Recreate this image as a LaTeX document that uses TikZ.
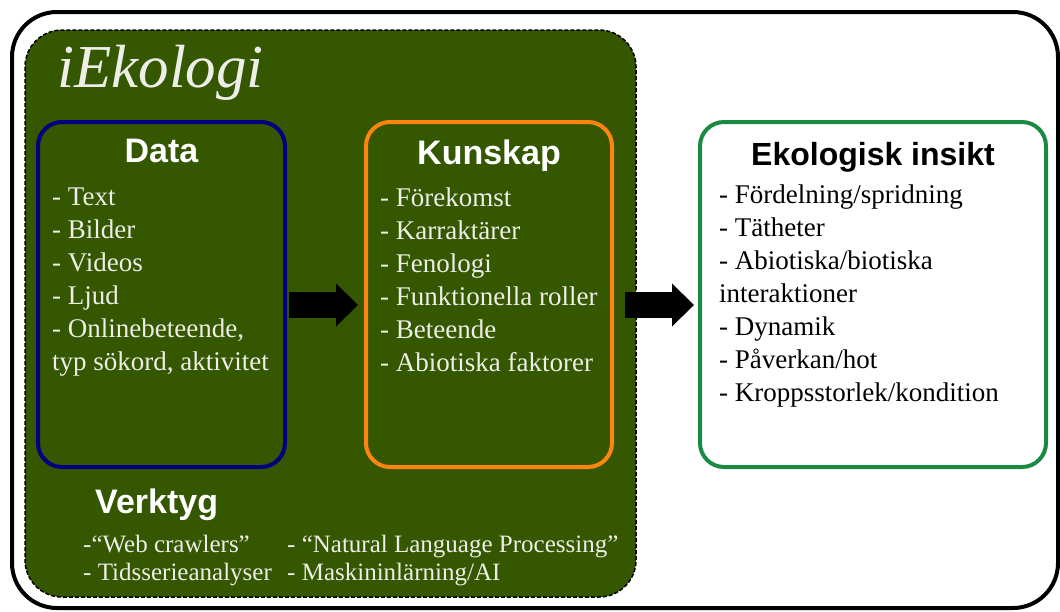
\documentclass[tikz,border=0pt]{standalone}
\usepackage{fontspec}
\setmainfont{Liberation Serif}
\setsansfont{Liberation Sans}
\usetikzlibrary{arrows.meta, positioning}

\definecolor{platgreen}{RGB}{52,87,0}
\definecolor{datablue}{RGB}{0,0,128}
\definecolor{kunorange}{RGB}{255,132,16}
\definecolor{insiktgreen}{RGB}{26,138,66}
\definecolor{lighttext}{RGB}{238,238,232}

\begin{document}
\begin{tikzpicture}[x=1pt,y=-1pt,
    frame/.style={draw,line width=4pt,rounded corners=45pt},
    platform/.style={draw,fill=platgreen,dash pattern=on 4pt off 2pt,line width=1.5pt,rounded corners=37pt},
    box node/.style={rectangle,draw,line width=4pt,rounded corners=24pt,outer sep=0pt,minimum height=345pt},
    title/.style={font=\sffamily\bfseries\fontsize{34}{40}\selectfont,text=white,anchor=base,inner sep=0pt},
    items/.style={align=left,anchor=north west,inner sep=0pt,font=\fontsize{27}{33}\selectfont,text=lighttext,execute at begin node=\strut},
    tools/.style={align=left,anchor=base west,inner sep=0pt,font=\fontsize{25}{28}\selectfont,text=lighttext},
    bigarrow/.style={line width=26pt,-{Triangle[length=22pt,width=43pt,line width=0pt]}}]

  \useasboundingbox (0,0) rectangle (1060,611);

  % frames
  \draw[frame] (12,12) rectangle (1058,608);
  \draw[platform] (25,30) rectangle (636,597);
  \node[anchor=base west,inner sep=0pt,text=lighttext,font=\itshape\fontsize{61}{63}\selectfont] (platname) at (57,87) {iEkologi};

  % the three boxes
  \node[box node,draw=datablue,minimum width=247pt] (data) at (161.5,294.5) {};
  \node[box node,draw=kunorange,minimum width=246pt] (kunskap) at (489,294.5) {};
  \node[box node,draw=insiktgreen,fill=white,minimum width=346pt] (insikt) at (873,294.5) {};

  \node[title] (datatitle) at ([yshift=-40pt]data.north) {Data};
  \node[title] (kunskaptitle) at ([yshift=-42pt]kunskap.north) {Kunskap};
  \node[title,text=black,font=\sffamily\bfseries\fontsize{32}{36}\selectfont] (insikttitle) at ([yshift=-43pt]insikt.north) {Ekologisk insikt};

  \node[items] (datalist) at ([xshift=14pt,yshift=-66pt]data.north west)
    {- Text\\- Bilder\\- Videos\\- Ljud\\- Onlinebeteende,\\typ sökord, aktivitet};
  \node[items] (kunskaplist) at ([xshift=14pt,yshift=-66pt]kunskap.north west)
    {- Förekomst\\- Karraktärer\\- Fenologi\\- Funktionella roller\\- Beteende\\- Abiotiska faktorer};
  \node[items,text=black] (insiktlist) at ([xshift=19pt,yshift=-63pt]insikt.north west)
    {- Fördelning/spridning\\- Tätheter\\- Abiotiska/biotiska\\interaktioner\\- Dynamik\\- Påverkan/hot\\- Kroppsstorlek/kondition};

  % tools
  \node[title,anchor=base west] (verktyg) at (95,513) {Verktyg};
  \node[tools] (toolsleft) at (83,580) {-“Web crawlers”\\- Tidsserieanalyser};
  \node[tools] (toolsright) at (287,580) {- “Natural Language Processing”\\- Maskininlärning/AI};

  % arrows
  \coordinate (arrowline) at (0,305);
  \draw[bigarrow,shorten <=4pt,shorten >=8pt] (data.east |- arrowline) -- (kunskap.west |- arrowline);
  \draw[bigarrow,shorten <=13pt,shorten >=6pt] (kunskap.east |- arrowline) -- (insikt.west |- arrowline);

\end{tikzpicture}
\end{document}
